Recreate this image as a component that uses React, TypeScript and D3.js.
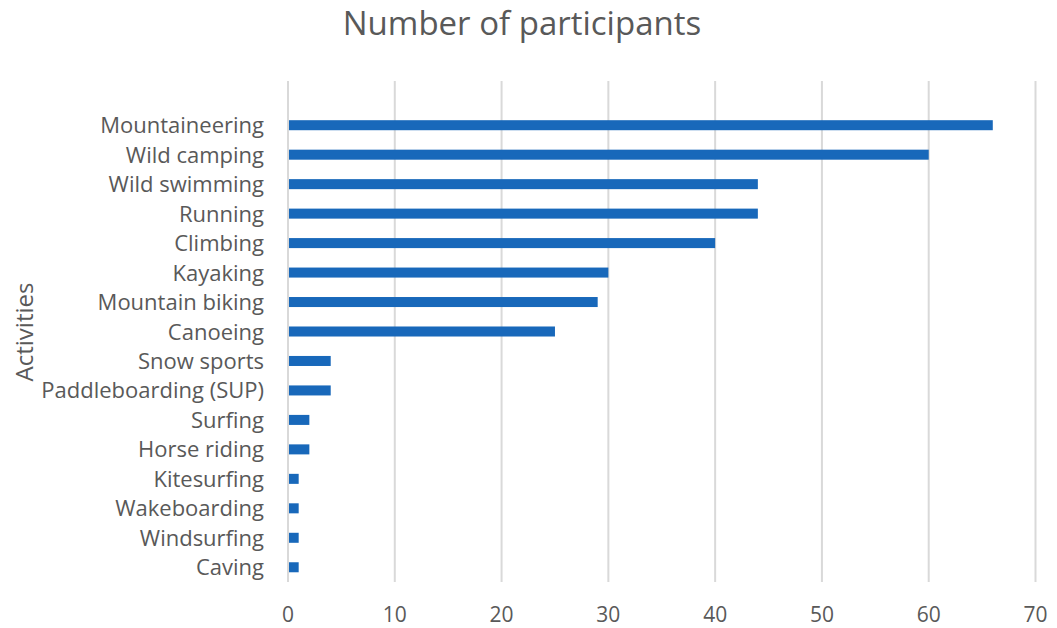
import React from "react";
import * as d3 from "d3";

const categories = [
  "Mountaineering",
  "Wild camping",
  "Wild swimming",
  "Running",
  "Climbing",
  "Kayaking",
  "Mountain biking",
  "Canoeing",
  "Snow sports",
  "Paddleboarding (SUP)",
  "Surfing",
  "Horse riding",
  "Kitesurfing",
  "Wakeboarding",
  "Windsurfing",
  "Caving",
];
const values = [66, 60, 44, 44, 40, 30, 29, 25, 4, 4, 2, 2, 1, 1, 1, 1];
const xTicks = [0, 10, 20, 30, 40, 50, 60, 70];
const title = "Number of participants";
const yTitle = "Activities";

const W = 1057;
const H = 628;
const left = 288;
const right = 1035.5;
const top = 81;
const bottom = 582;
const FONT = "'Open Sans', sans-serif";
const TEXT = "#595959";
const BAR = "#1868BA";

export default function App() {
  const x = d3.scaleLinear().domain([0, 70]).range([left, right]);
  const step = (bottom - top) / (categories.length + 1);
  const y = d3
    .scaleBand<string>()
    .domain(categories)
    .range([top + step, bottom])
    .paddingInner(0.66)
    .paddingOuter(0.33);

  return (
    <svg
      width={W}
      height={H}
      style={{ position: "absolute", left: 0, top: 0, background: "#fff" }}
    >
      <rect width={W} height={H} fill="#fff" />
      {xTicks.map((t) => (
        <line
          key={t}
          x1={x(t)}
          x2={x(t)}
          y1={top}
          y2={bottom}
          stroke="#d9d9d9"
          strokeWidth={2}
        />
      ))}
      {categories.map((c, i) => (
        <rect
          key={c}
          x={x(0) + 1}
          y={y(c)}
          width={x(values[i]) - x(0) - 1}
          height={y.bandwidth()}
          fill={BAR}
        />
      ))}
      {categories.map((c) => (
        <text
          key={c}
          x={264}
          y={(y(c) as number) + y.bandwidth() / 2 + 8}
          textAnchor="end"
          fontFamily={FONT}
          fontSize={22}
          fill={TEXT}
        >
          {c}
        </text>
      ))}
      {xTicks.map((t) => (
        <text
          key={t}
          x={x(t)}
          y={622}
          textAnchor="middle"
          fontFamily={FONT}
          fontSize={21}
          fill={TEXT}
        >
          {t}
        </text>
      ))}
      <text
        x={522}
        y={35}
        textAnchor="middle"
        fontFamily={FONT}
        fontSize={33}
        fill={TEXT}
      >
        {title}
      </text>
      <text
        transform={`translate(33,332) rotate(-90)`}
        textAnchor="middle"
        fontFamily={FONT}
        fontSize={24}
        fill={TEXT}
      >
        {yTitle}
      </text>
    </svg>
  );
}
